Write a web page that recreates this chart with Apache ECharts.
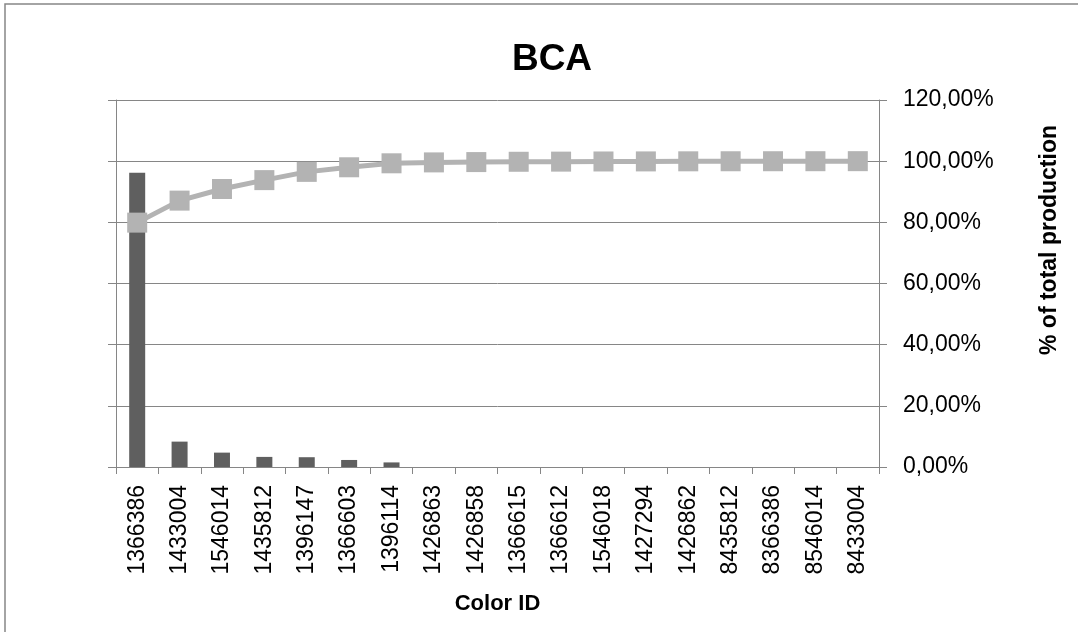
<!DOCTYPE html>
<html>
<head>
<meta charset="utf-8">
<script src="https://cdn.jsdelivr.net/npm/echarts@6/dist/echarts.min.js"></script>
<style>html,body{margin:0;padding:0;background:#fff}#c{width:1078px;height:632px}</style>
</head>
<body>
<div id="c"></div>
<script>
const categories = ['1366386','1433004','1546014','1435812','1396147','1366603','1396114','1426863','1426858','1366615','1366612','1546018','1427294','1426862','8435812','8366386','8546014','8433004'];
// bar heights in units of the (unlabelled) primary axis
const barValues = [96.2, 8.3, 4.7, 3.3, 3.2, 2.3, 1.5, 0, 0, 0, 0, 0, 0, 0, 0, 0, 0, 0];
// cumulative % of total production
const cumulativePct = [79.9, 87.1, 90.9, 93.8, 96.5, 98.0, 99.3, 99.6, 99.7, 99.8, 99.85, 99.9, 99.92, 99.95, 99.97, 99.98, 99.99, 100];
const pctTicks = [0, 20, 40, 60, 80, 100, 120];

const FONT = '"Liberation Sans", Arial, sans-serif';
const GRID = '#868686';
const chart = echarts.init(document.getElementById('c'), null, {renderer: 'canvas'});
chart.setOption({
  animation: false,
  backgroundColor: '#fff',
  title: {
    text: 'BCA', left: 547, top: 36, textAlign: 'center',
    textStyle: {fontFamily: FONT, fontWeight: 'bold', fontSize: 37, color: '#000'}
  },
  grid: {left: 116, right: 199, top: 100, bottom: 165, containLabel: false},
  xAxis: {
    type: 'category', data: categories, boundaryGap: true,
    name: 'Color ID', nameLocation: 'middle', nameGap: 126,
    nameTextStyle: {fontFamily: FONT, fontWeight: 'bold', fontSize: 22, color: '#000'},
    axisLine: {lineStyle: {color: GRID, width: 1}},
    axisTick: {show: true, alignWithLabel: false, length: 7, lineStyle: {color: GRID}},
    axisLabel: {rotate: 90, margin: 18, fontFamily: FONT, fontSize: 23, color: '#000', interval: 0}
  },
  yAxis: [
    {
      type: 'value', position: 'left', min: 0, max: pctTicks[pctTicks.length-1], interval: 20,
      axisLine: {show: true, lineStyle: {color: GRID}},
      axisTick: {show: true, length: 8, lineStyle: {color: GRID}},
      axisLabel: {show: false},
      splitLine: {show: false}
    },
    {
      type: 'value', position: 'right', min: 0, max: pctTicks[pctTicks.length-1], interval: 20,
      axisLine: {show: true, lineStyle: {color: GRID}},
      axisTick: {show: true, length: 8, lineStyle: {color: GRID}},
      axisLabel: {margin: 24, fontFamily: FONT, fontSize: 23, color: '#000',
        formatter: v => v.toFixed(2).replace('.', ',') + '%'},
      splitLine: {show: true, lineStyle: {color: GRID, width: 1}}
    }
  ],
  series: [
    {
      type: 'bar', yAxisIndex: 0, data: barValues, barWidth: 16,
      itemStyle: {color: '#5f5f5f'}
    },
    {
      type: 'line', yAxisIndex: 1, data: cumulativePct,
      symbol: 'rect', symbolSize: 20, showSymbol: true,
      lineStyle: {color: '#b3b3b3', width: 5},
      itemStyle: {color: '#b3b3b3'}
    }
  ],
  graphic: [
    {type: 'rect', shape: {x: 5, y: 4, width: 1090, height: 650}, silent: true,
     style: {fill: 'none', stroke: '#868686', lineWidth: 1.5}},
    {type: 'text', x: 1050, y: 240, rotation: Math.PI/2,
     style: {text: '% of total production', fontFamily: FONT, fontWeight: 'bold', fontSize: 23,
             fill: '#000', align: 'center', verticalAlign: 'middle'}}
  ]
});
</script>
</body>
</html>
